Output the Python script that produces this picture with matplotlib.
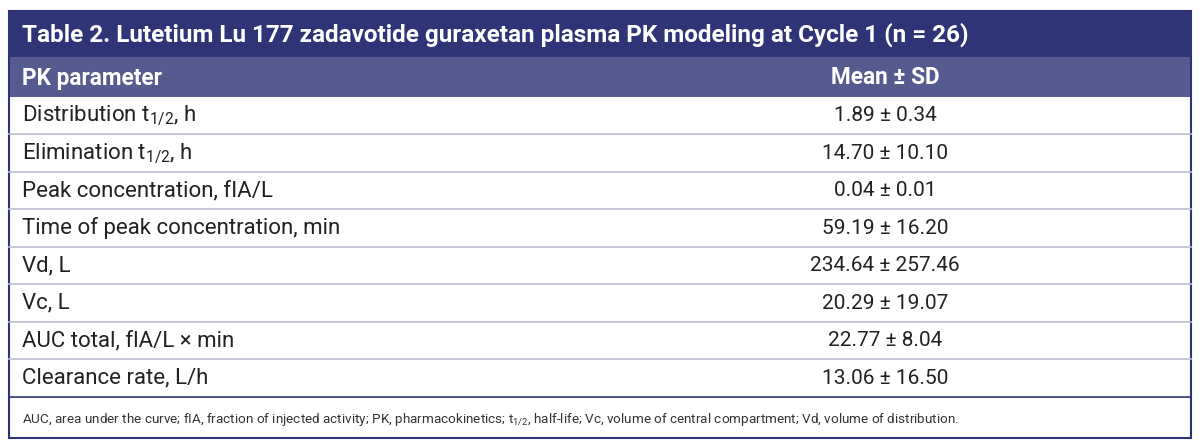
import matplotlib
matplotlib.use("Agg")
import matplotlib.pyplot as plt
from matplotlib.patches import Rectangle

title = "Table 2. Lutetium Lu 177 zadavotide guraxetan plasma PK modeling at Cycle 1 (n = 26)"
col_headers = ["PK parameter", "Mean ± SD"]
params = [r"Distribution t$_{1/2}$, h", r"Elimination t$_{1/2}$, h", "Peak concentration, fIA/L",
          "Time of peak concentration, min", "Vd, L", "Vc, L", "AUC total, flA/L × min",
          "Clearance rate, L/h"]
values = ["1.89 ± 0.34", "14.70 ± 10.10", "0.04 ± 0.01", "59.19 ± 16.20", "234.64 ± 257.46",
          "20.29 ± 19.07", "22.77 ± 8.04", "13.06 ± 16.50"]
footnote = ("AUC, area under the curve; fIA, fraction of injected activity; PK, pharmacokinetics; "
            r"t$_{1/2}$, half-life; Vc, volume of central compartment; Vd, volume of distribution.")

plt.rcParams['font.family'] = ['Roboto', 'DejaVu Sans']
plt.rcParams['mathtext.fontset'] = 'custom'
plt.rcParams['mathtext.rm'] = 'Roboto'
plt.rcParams['mathtext.it'] = 'Roboto'

fig = plt.figure(figsize=(12, 4.48), dpi=100)
ax = fig.add_axes([0, 0, 1, 1])
ax.set_xlim(0, 1200); ax.set_ylim(448, 0); ax.axis('off')

L, R = 9, 1191
navy = "#2e3476"; hdr = "#565b8f"; line = "#b9bdd3"
ax.add_patch(Rectangle((L, 11), R - L, 46, color=navy, lw=0))
ax.add_patch(Rectangle((L, 57), R - L, 40, color=hdr, lw=0))
ax.text(22, 35, title, color="white", fontsize=17.5, fontweight="bold", va="center")
ax.text(22, 78, col_headers[0], color="white", fontsize=16.3, fontweight="bold", va="center")
ax.text(885, 78, col_headers[1], color="white", fontsize=16.3, fontweight="bold", va="center", ha="center")

top = 97; rh = 37.5
for i, (p, v) in enumerate(zip(params, values)):
    yc = top + rh * (i + 0.5)
    ax.text(22, yc, p, fontsize=16, va="center", color="#222222")
    ax.text(885, yc, v, fontsize=15, va="center", ha="center", color="#222222")
    ax.plot([L, R], [top + rh * (i + 1)] * 2, color=line if i < 7 else navy, lw=1.2)
ax.text(22, 419, footnote, fontsize=9.7, va="center", color="#333333")
ax.add_patch(Rectangle((L, 11), R - L, 427, fill=False, ec=navy, lw=1.5))
fig.savefig("out.png", dpi=100)
